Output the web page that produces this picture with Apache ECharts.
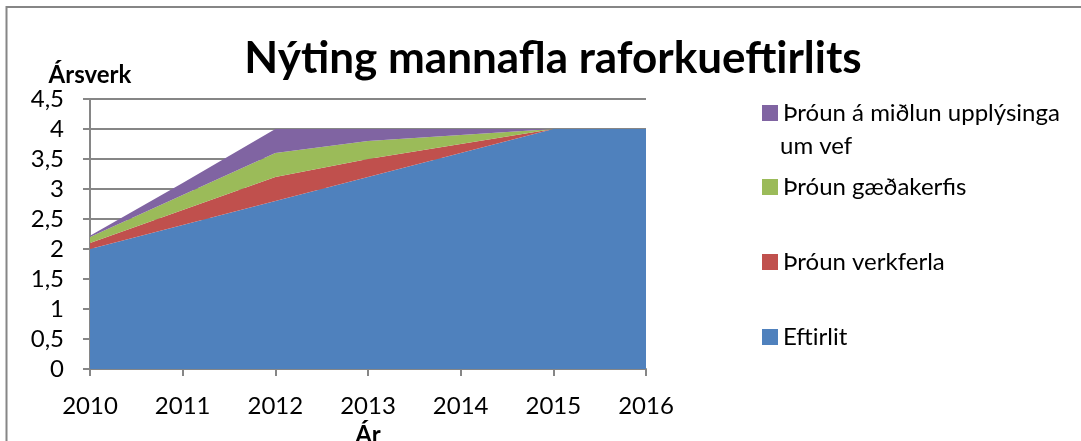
<!DOCTYPE html>
<html>
<head>
<meta charset="utf-8">
<script src="https://cdn.jsdelivr.net/npm/echarts@6/dist/echarts.min.js"></script>
<style>
  html, body { margin: 0; padding: 0; background: #fff; }
  #chart { width: 1081px; height: 441px; }
</style>
</head>
<body>
<div id="chart"></div>
<script>
const years = ["2010", "2011", "2012", "2013", "2014", "2015", "2016"]
const eftirlit = [2.0, 2.4, 2.8, 3.2, 3.6, 4.0, 4.0]
const verkferla = [0.1, 0.25, 0.4, 0.3, 0.15, 0, 0]
const gaedakerfi = [0.1, 0.25, 0.4, 0.3, 0.15, 0, 0]
const midlun = [0.02, 0.2, 0.4, 0.2, 0.1, 0, 0]
const yTicks = [0, 0.5, 1, 1.5, 2, 2.5, 3, 3.5, 4, 4.5]

const font = "Lato, 'Open Sans', sans-serif"
const names = ["Eftirlit", "Þróun verkferla", "Þróun gæðakerfis", "Þróun á miðlun upplýsinga"]
const colors = ["#4F81BD", "#C0504D", "#9BBB59", "#8064A2"]
const values = [eftirlit, verkferla, gaedakerfi, midlun]

const legendText = { fontFamily: font, fontSize: 24, color: "#000" }

const chart = echarts.init(document.getElementById("chart"))
chart.setOption({
  animation: false,
  color: colors,
  title: {
    text: "Nýting mannafla raforkueftirlits",
    left: 548,
    textAlign: "center",
    top: 32,
    textStyle: { fontFamily: font, fontWeight: "bold", fontSize: 44, color: "#000" }
  },
  graphic: [
    {
      type: "rect",
      shape: { x: 6.5, y: 7, width: 1100, height: 460 },
      style: { fill: "none", stroke: "#868686", lineWidth: 2 },
      silent: true
    },
    {
      // second line of the wrapped legend label
      type: "text",
      left: 780,
      top: 134,
      style: { text: "um vef", font: "24px Lato, 'Open Sans', sans-serif", fill: "#000" },
      silent: true
    }
  ],
  legend: [
    {
      data: [names[3]],
      left: 757,
      top: 93,
      itemWidth: 16,
      itemHeight: 16,
      icon: "rect",
      textStyle: Object.assign({ lineHeight: 30 }, legendText)
    },
    {
      data: [names[2], names[1], names[0]],
      orient: "vertical",
      left: 757,
      top: 167,
      itemWidth: 16,
      itemHeight: 16,
      itemGap: 45,
      icon: "rect",
      textStyle: Object.assign({ lineHeight: 30 }, legendText)
    }
  ],
  grid: { left: 90, right: 435, top: 99, bottom: 72, outerBoundsMode: "none" },
  xAxis: {
    type: "category",
    data: years,
    boundaryGap: false,
    name: "Ár",
    nameLocation: "middle",
    nameGap: 46,
    nameTextStyle: { fontFamily: font, fontWeight: "bold", fontSize: 24, color: "#000" },
    axisLine: { lineStyle: { color: "#868686", width: 2 } },
    axisTick: { show: true, length: 7, lineStyle: { color: "#868686", width: 2 } },
    axisLabel: { fontFamily: font, fontSize: 24, color: "#000", margin: 25 }
  },
  yAxis: {
    type: "value",
    min: 0,
    max: 4.5,
    interval: 0.5,
    name: "Ársverk",
    nameLocation: "end",
    nameGap: 10,
    nameTextStyle: { fontFamily: font, fontWeight: "bold", fontSize: 24, color: "#000", align: "center" },
    axisLine: { show: true, lineStyle: { color: "#868686", width: 2 } },
    axisTick: { show: true, length: 7, lineStyle: { color: "#868686", width: 2 } },
    splitLine: { lineStyle: { color: "#868686", width: 2 } },
    axisLabel: {
      fontFamily: font, fontSize: 24, color: "#000", margin: 26,
      formatter: v => String(yTicks.find(t => Math.abs(t - v) < 1e-9) ?? v).replace(".", ",")
    }
  },
  series: values.map((d, i) => ({
    name: names[i],
    type: "line",
    stack: "Total",
    data: d,
    symbol: "none",
    lineStyle: { width: 0 },
    areaStyle: { opacity: 1, color: colors[i] },
    z: 2
  }))
})
</script>
</body>
</html>
